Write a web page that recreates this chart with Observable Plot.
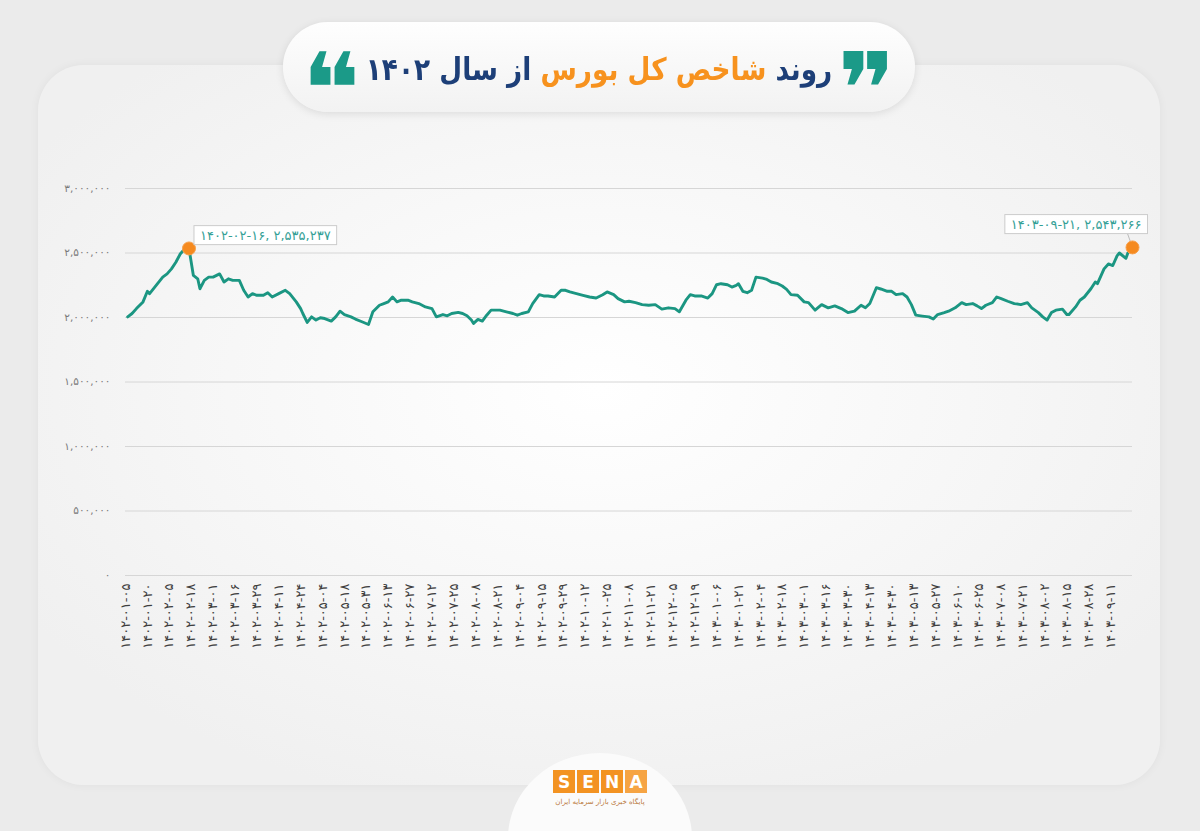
<!DOCTYPE html>
<html><head><meta charset="utf-8">
<script src="https://cdn.jsdelivr.net/npm/d3@7"></script>
<script src="https://cdn.jsdelivr.net/npm/@observablehq/plot@0.6"></script>
<style>
html,body{margin:0;padding:0;}
body{width:1200px;height:831px;overflow:hidden;position:relative;background:#ebebeb;font-family:"DejaVu Sans",sans-serif;}
#card{position:absolute;left:38px;top:65px;width:1122px;height:720px;border-radius:46px;
  background:radial-gradient(ellipse 60% 60% at 50% 45%,#ffffff 0%,#f7f7f7 55%,#f0f0f0 100%);
  box-shadow:0 0 10px rgba(0,0,0,0.05);}
#pill{position:absolute;left:283px;top:22px;width:632px;height:90px;border-radius:45px;
  background:linear-gradient(#fefefe,#f2f2f2);box-shadow:0 2px 8px rgba(0,0,0,0.10);}
#title{position:absolute;left:283px;top:24px;width:632px;height:90px;display:flex;align-items:center;justify-content:center;
  direction:rtl;font-family:"DejaVu Sans";font-weight:bold;font-size:31px;color:#1d3f78;white-space:nowrap;
  transform:scaleX(0.85);transform-origin:50% 50%;}
#title .o{color:#f7921e;}
#title .q{display:inline-block;color:#1b9a88;font-family:"DejaVu Sans";font-weight:normal;font-size:100px;line-height:0;position:relative;top:21px;margin:0 14px;transform:scaleX(1.3);}
#chart{position:absolute;left:0;top:160px;}
#bump{position:absolute;left:508px;top:753px;width:184px;height:170px;border-radius:50%;background:#fbfbfb;}
#logo{position:absolute;left:553px;top:770px;display:flex;gap:2px;}
#logo span{width:22px;height:23px;background:#f39322;color:#fff;font-family:"DejaVu Sans";font-weight:bold;font-size:17px;display:flex;align-items:center;justify-content:center;}
#logo span.a{background:#f6a443;}
#tag{position:absolute;left:540px;top:798px;width:120px;text-align:center;direction:rtl;font-size:7px;color:#b9773a;}
</style></head>
<body>
<div id="card"></div>
<div id="pill"></div>
<div id="title"><span class="q">❞</span><span>روند&nbsp;</span><span class="o">شاخص کل بورس&nbsp;</span><span>از سال ۱۴۰۲</span><span class="q">❝</span></div>
<div id="chart"></div>
<div id="bump"></div>
<div id="logo"><span>S</span><span>E</span><span>N</span><span class="a">A</span></div>
<div id="tag">پایگاه خبری بازار سرمایه ایران</div>
<script>
// trading-day index of each reading
const days = [1,3,5,8,10,11,14,17,19,21,23,25,27,29,31,33,34,36,38,40,43,45,47,49,52,54,56,58,60,63,65,67,70,73,75,78,80,81,83,85,87,89,91,94,96,98,100,103,105,108,111,113,116,118,120,122,124,126,129,131,134,137,140,142,145,147,149,152,154,156,158,159,161,163,165,167,171,174,177,179,181,184,186,189,191,193,196,199,201,203,206,209,212,215,218,220,223,225,228,230,233,236,239,242,245,248,251,253,256,258,260,263,266,268,270,272,275,277,279,280,282,284,286,288,291,293,295,298,300,302,304,307,310,312,315,318,321,324,327,330,333,336,338,340,343,345,348,350,352,355,357,359,361,364,367,369,371,374,376,379,382,384,387,389,391,393,396,398,400,403,406,409,412,414,417,419,421,423,425,428,430,431,434,436,438,441,443,444,447,449,451,453,454,457,458,460];
// index value
const values = [2005000,2031000,2069000,2121000,2203000,2185000,2249000,2313000,2338000,2377000,2428000,2492000,2531000,2535237,2326000,2300000,2223000,2288000,2313000,2313000,2338000,2275000,2300000,2288000,2288000,2211000,2159000,2185000,2172000,2172000,2192000,2159000,2185000,2211000,2185000,2121000,2069000,2031000,1962000,2005000,1980000,1998000,1992000,1972000,2005000,2049000,2023000,2005000,1988000,1967000,1946000,2044000,2095000,2108000,2121000,2159000,2121000,2134000,2134000,2121000,2108000,2082000,2069000,2005000,2023000,2013000,2031000,2040000,2031000,2013000,1980000,1954000,1985000,1972000,2018000,2057000,2057000,2044000,2031000,2018000,2031000,2044000,2108000,2177000,2167000,2167000,2159000,2211000,2211000,2198000,2185000,2172000,2159000,2151000,2177000,2198000,2177000,2146000,2121000,2126000,2115000,2100000,2095000,2100000,2065000,2075000,2069000,2044000,2134000,2177000,2167000,2167000,2151000,2185000,2254000,2262000,2254000,2236000,2249000,2262000,2203000,2192000,2211000,2313000,2305000,2295000,2275000,2262000,2244000,2218000,2177000,2172000,2121000,2115000,2057000,2100000,2075000,2090000,2069000,2038000,2049000,2095000,2075000,2108000,2231000,2221000,2203000,2203000,2177000,2185000,2159000,2100000,2018000,2011000,2005000,1988000,2023000,2038000,2049000,2075000,2115000,2100000,2108000,2090000,2069000,2095000,2115000,2159000,2146000,2126000,2108000,2100000,2115000,2075000,2038000,2005000,1980000,2038000,2057000,2065000,2023000,2023000,2082000,2134000,2159000,2223000,2275000,2262000,2377000,2415000,2403000,2480000,2500000,2459000,2505000,2543266];
// x tick labels (one every 10 trading days)
const xLabels = ["۱۴۰۲-۰۱-۰۵","۱۴۰۲-۰۱-۲۰","۱۴۰۲-۰۲-۰۵","۱۴۰۲-۰۲-۱۸","۱۴۰۲-۰۳-۰۱","۱۴۰۲-۰۳-۱۶","۱۴۰۲-۰۳-۲۹","۱۴۰۲-۰۴-۱۱","۱۴۰۲-۰۴-۲۴","۱۴۰۲-۰۵-۰۴","۱۴۰۲-۰۵-۱۸","۱۴۰۲-۰۵-۳۱","۱۴۰۲-۰۶-۱۳","۱۴۰۲-۰۶-۲۷","۱۴۰۲-۰۷-۱۲","۱۴۰۲-۰۷-۲۵","۱۴۰۲-۰۸-۰۸","۱۴۰۲-۰۸-۲۱","۱۴۰۲-۰۹-۰۴","۱۴۰۲-۰۹-۱۵","۱۴۰۲-۰۹-۲۹","۱۴۰۲-۱۰-۱۲","۱۴۰۲-۱۰-۲۵","۱۴۰۲-۱۱-۰۸","۱۴۰۲-۱۱-۲۱","۱۴۰۲-۱۲-۰۵","۱۴۰۲-۱۲-۱۹","۱۴۰۳-۰۱-۰۶","۱۴۰۳-۰۱-۲۱","۱۴۰۳-۰۲-۰۴","۱۴۰۳-۰۲-۱۸","۱۴۰۳-۰۳-۰۱","۱۴۰۳-۰۳-۱۶","۱۴۰۳-۰۳-۳۰","۱۴۰۳-۰۴-۱۳","۱۴۰۳-۰۴-۳۰","۱۴۰۳-۰۵-۱۳","۱۴۰۳-۰۵-۲۷","۱۴۰۳-۰۶-۱۰","۱۴۰۳-۰۶-۲۵","۱۴۰۳-۰۷-۰۸","۱۴۰۳-۰۷-۲۱","۱۴۰۳-۰۸-۰۲","۱۴۰۳-۰۸-۱۵","۱۴۰۳-۰۸-۲۸","۱۴۰۳-۰۹-۱۱"];
const yTicks = [0,500000,1000000,1500000,2000000,2500000,3000000];
const annDays = [29,460];
const annValues = [2535237,2543266];
const annLabels = ["۱۴۰۲-۰۲-۱۶, ۲,۵۳۵,۲۳۷","۱۴۰۳-۰۹-۲۱, ۲,۵۴۳,۲۶۶"];

const fa = s => String(s).replace(/\d/g, d => "۰۱۲۳۴۵۶۷۸۹"[d]);
const data = days.map((d,i)=>({day:d, value:values[i]}));
const tickDays = xLabels.map((_,i)=>i*10);
const labelOf = new Map(tickDays.map((d,i)=>[d,xLabels[i]]));
const ann = annDays.map((d,i)=>({day:d, value:annValues[i], label:annLabels[i]}));

const chart = Plot.plot({
  width:1200, height:520,
  marginLeft:125, marginRight:68, marginTop:28, marginBottom:105,
  style:{background:"transparent", fontFamily:"DejaVu Sans", overflow:"visible"},
  x:{domain:[0,460], axis:null},
  y:{domain:[0,3000000], axis:null},
  marks:[
    Plot.gridY(yTicks, {stroke:"#d6d6d6", strokeOpacity:1, strokeWidth:1}),
    Plot.axisY(yTicks, {tickSize:0, tickPadding:15, tickFormat:d=>fa(d3.format(",")(d)), fill:"#7a7a7a", fontSize:10.5, label:null}),
    Plot.axisX(tickDays, {tickSize:0, tickPadding:8, tickRotate:-90, tickFormat:d=>labelOf.get(d), fill:"#3f3f3f", fontSize:13, label:null}),
    Plot.line(data, {x:"day", y:"value", stroke:"#1b9682", strokeWidth:2.9, strokeLinejoin:"round"}),
    Plot.dot(ann, {x:"day", y:"value", r:6.5, fill:"#f58a1f", stroke:"#f8a04a", strokeWidth:1, className:"anndot"}),
    Plot.text([ann[0]], {x:"day", y:"value", text:"label", dx:11, dy:-13, textAnchor:"start", fill:"#34a096", fontSize:13, className:"ann"}),
    Plot.text([ann[1]], {x:"day", y:"value", text:"label", dx:9, dy:-23, textAnchor:"end", fill:"#34a096", fontSize:13, className:"ann"})
  ]
});
document.getElementById("chart").append(chart);

const NS = "http://www.w3.org/2000/svg";
const svgBox = chart.getBoundingClientRect();
const dots = chart.querySelectorAll("g.anndot circle");
chart.querySelectorAll("g.ann text").forEach((t,i) => {
  t.setAttribute("direction","ltr");
  const b = t.getBBox();
  const r = document.createElementNS(NS,"rect");
  r.setAttribute("x", b.x-6); r.setAttribute("y", b.y-2);
  r.setAttribute("width", b.width+12); r.setAttribute("height", b.height+4);
  r.setAttribute("fill","#ffffff"); r.setAttribute("fill-opacity","0.92");
  r.setAttribute("stroke","#cccccc"); r.setAttribute("stroke-width","1");
  if (t.getAttribute("transform")) r.setAttribute("transform", t.getAttribute("transform"));
  t.parentNode.insertBefore(r, t);
  if (i === 1) {
    const rb = r.getBoundingClientRect();
    const db = dots[1].getBoundingClientRect();
    const l = document.createElementNS(NS,"line");
    l.setAttribute("x1", rb.right - 20 - svgBox.left); l.setAttribute("y1", rb.bottom - svgBox.top);
    l.setAttribute("x2", (db.left+db.right)/2 - svgBox.left); l.setAttribute("y2", (db.top+db.bottom)/2 - svgBox.top);
    l.setAttribute("stroke","#bbbbbb"); l.setAttribute("stroke-width","1");
    chart.insertBefore(l, chart.querySelector("g.anndot"));
  }
});
</script>
</body></html>
